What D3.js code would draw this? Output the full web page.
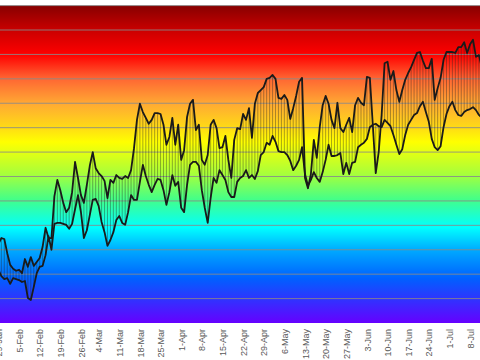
<!DOCTYPE html>
<html><head><meta charset="utf-8">
<script src="https://cdn.jsdelivr.net/npm/d3@7"></script>
<style>html,body{margin:0;padding:0;background:#fff;} svg{display:block;}</style>
</head><body>
<svg id="chart" width="480" height="360"></svg>
<script>
// ---- data ----
const startDate = "2013-01-29";
const highSeries = [
-8.8,-7.6,-7.8,-10.7,-13.1,-13.9,-14.3,-14.1,-14.8,-11.9,
-13.5,-11.5,-13.3,-12.5,-11.7,-9.4,-5.5,-7.6,-7.6,1.0,
4.3,2.2,-0.4,-2.3,-1.4,1.8,8.0,4.7,1.2,-0.4,
3.3,7.2,10.0,6.7,5.7,5.1,4.1,0.6,4.3,3.7,
5.3,4.7,4.5,5.1,4.7,6.3,10.8,16.6,19.9,18.2,
17.0,15.8,16.6,18.0,18.0,17.8,15.6,11.5,13.1,17.0,
11.5,15.6,8.4,10.4,17.2,19.9,20.7,14.5,15.6,8.4,
7.4,9.4,15.6,16.6,14.9,10.8,11.0,13.3,8.4,4.7,
12.5,14.9,14.7,17.8,16.6,19.0,12.9,19.9,22.1,22.7,
23.3,25.0,25.2,25.8,25.0,21.1,20.9,21.7,20.7,16.8,
19.0,21.5,24.4,25.2,4.7,2.6,5.5,12.5,8.8,15.1,
19.6,21.5,19.9,16.6,14.9,20.1,14.9,14.1,15.6,17.0,
14.1,19.6,21.1,20.1,19.6,25.4,25.2,15.6,5.7,10.0,
17.6,28.2,28.5,24.8,26.6,22.7,20.3,22.7,24.8,26.2,
27.4,28.9,30.3,30.5,28.7,27.2,27.2,29.1,20.7,23.1,
25.2,28.9,30.5,30.5,30.5,30.3,31.5,31.5,32.5,30.3,
32.1,33.0,29.5,29.9,27.2];
const lowSeries = [
-14.1,-15.4,-16.0,-15.8,-17.0,-15.8,-16.0,-16.2,-16.6,-16.4,
-19.9,-20.3,-17.6,-14.8,-13.5,-13.3,-11.1,-7.2,-10.0,-4.7,
-4.5,-4.5,-4.7,-4.9,-5.7,-4.7,-1.7,1.2,-2.3,-7.6,
-6.0,-2.9,0.2,0.4,-1.0,-4.3,-6.4,-9.2,-8.0,-6.4,
-3.9,-3.1,-4.5,-4.9,-2.3,1.2,0.2,0.2,3.9,7.4,
5.1,3.3,1.8,3.3,4.5,4.3,2.2,-0.8,1.8,5.3,
3.1,3.9,-1.4,-2.3,3.3,7.4,8.0,8.0,7.2,2.2,
-1.4,-4.5,0.6,4.7,3.7,6.3,5.3,4.3,1.8,0.8,
0.8,3.9,4.7,5.1,6.3,4.7,5.3,4.5,6.1,9.4,
10.0,11.9,11.5,13.3,12.1,10.2,10.0,10.0,9.4,8.2,
6.3,7.2,8.4,11.0,5.5,3.1,4.3,5.9,4.7,3.9,
5.9,8.4,11.5,9.2,9.2,9.4,9.8,5.5,7.8,5.5,
7.8,8.0,11.0,11.5,11.9,12.7,15.1,15.6,15.8,15.3,
15.1,16.6,16.0,15.3,13.5,11.5,9.6,10.6,13.5,15.6,
16.6,17.6,18.0,19.4,20.3,18.2,16.2,12.7,11.0,10.4,
11.2,15.1,17.8,19.4,20.3,18.6,17.6,17.4,18.2,18.6,
18.8,19.2,18.6,17.6,17.0];
const tickLabels = ["29-Jan","5-Feb","12-Feb","19-Feb","26-Feb","4-Mar","11-Mar","18-Mar","25-Mar",
"1-Apr","8-Apr","15-Apr","22-Apr","29-Apr","6-May","13-May","20-May","27-May",
"3-Jun","10-Jun","17-Jun","24-Jun","1-Jul","8-Jul"];
const gridValues = [-20,-15,-10,-5,0,5,10,15,20,25,30,35,40];
const gradientStops = [
  [0.00,"#870000"],[0.08,"#cc0000"],[0.155,"#ff0000"],[0.23,"#ff6633"],[0.31,"#ffaa33"],
  [0.38,"#ffd817"],[0.43,"#ffff00"],[0.53,"#a8ff3a"],[0.61,"#44ff88"],[0.70,"#00ffff"],
  [0.77,"#00aaff"],[0.86,"#0060ff"],[1.00,"#6600ff"]];

// ---- layout ----
const W = 480, H = 360;
const plotTop = 5.6, plotBottom = 323;
const parse = d3.utcParse("%Y-%m-%d");
const start = parse(startDate);
const dates = highSeries.map((_, i) => d3.utcDay.offset(start, i));
const rows = dates.map((d, i) => ({date: d, hi: highSeries[i], lo: lowSeries[i]}));

const x = d3.scaleUtc()
  .domain([start, d3.utcDay.offset(start, 164)])
  .range([-1.6, -1.6 + 164 * 2.948]);
const y = d3.scaleLinear().domain([-25, 40]).range([plotBottom, plotTop]);

const svg = d3.select("#chart");
const defs = svg.append("defs");
const grad = defs.append("linearGradient").attr("id", "rainbow")
  .attr("x1", 0).attr("y1", 0).attr("x2", 0).attr("y2", 1);
grad.selectAll("stop").data(gradientStops).join("stop")
  .attr("offset", d => d[0]).attr("stop-color", d => d[1]);
defs.append("clipPath").attr("id", "clip").append("rect")
  .attr("x", 0).attr("y", plotTop).attr("width", W).attr("height", plotBottom - plotTop);

svg.append("rect").attr("x", 0).attr("y", plotTop).attr("width", W)
  .attr("height", plotBottom - plotTop).attr("fill", "url(#rainbow)");

svg.append("g").selectAll("line").data(gridValues).join("line")
  .attr("x1", 0).attr("x2", W)
  .attr("y1", d => y(d)).attr("y2", d => y(d))
  .attr("stroke", "#8a8a8a").attr("stroke-opacity", 0.85).attr("stroke-width", 1);

const g = svg.append("g").attr("clip-path", "url(#clip)");
g.selectAll("line.hl").data(rows).join("line").attr("class", "hl")
  .attr("x1", d => x(d.date)).attr("x2", d => x(d.date))
  .attr("y1", d => y(d.hi)).attr("y2", d => y(d.lo))
  .attr("stroke", "#222").attr("stroke-opacity", 0.55).attr("stroke-width", 0.7);

const lineHi = d3.line().x(d => x(d.date)).y(d => y(d.hi));
const lineLo = d3.line().x(d => x(d.date)).y(d => y(d.lo));
g.append("path").datum(rows).attr("d", lineHi)
  .attr("fill", "none").attr("stroke", "#1a1a1a").attr("stroke-width", 1.8).attr("stroke-linejoin", "round");
g.append("path").datum(rows).attr("d", lineLo)
  .attr("fill", "none").attr("stroke", "#1a1a1a").attr("stroke-width", 1.8).attr("stroke-linejoin", "round");

const parseTick = d3.utcParse("%d-%b-%Y");
const tickDates = tickLabels.map(t => parseTick(t + "-2013"));
const axis = d3.axisBottom(x).tickValues(tickDates)
  .tickFormat((d, i) => tickLabels[i]).tickSize(0).tickPadding(0);
const ax = svg.append("g").attr("transform", `translate(0,${plotBottom})`).call(axis);
ax.select(".domain").remove();
ax.selectAll("text")
  .attr("transform", "rotate(-90)")
  .attr("x", -6).attr("y", 0).attr("dy", "0.35em")
  .style("text-anchor", "end")
  .attr("fill", "#595959")
  .style("font-family", "'Liberation Sans', Arial, sans-serif")
  .style("font-size", "9px");
</script>
</body></html>
